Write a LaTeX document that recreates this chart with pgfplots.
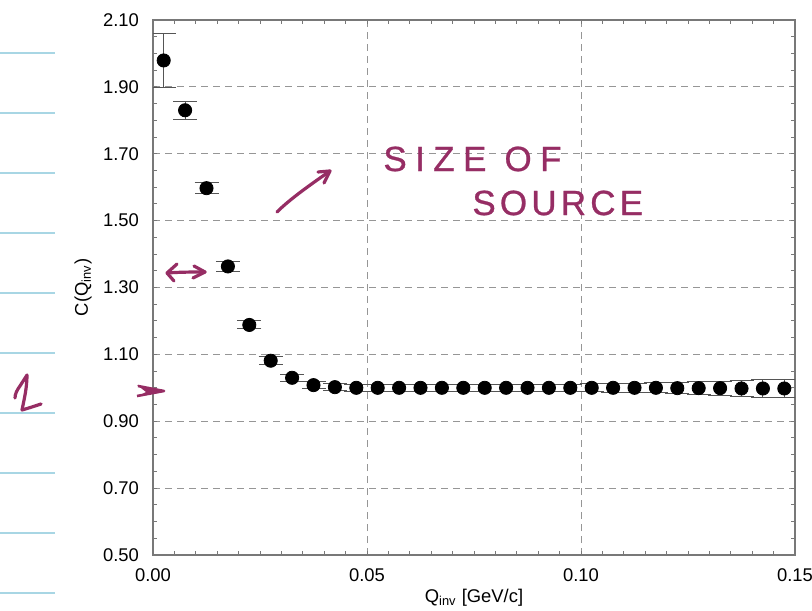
\documentclass[border=0pt]{standalone}
\usepackage{fontspec}
\setmainfont{Liberation Sans}
\newfontfamily\handA{Liberation Sans}[LetterSpace=24, FakeBold=0.8]
\newfontfamily\handB{Liberation Sans}[LetterSpace=12, FakeBold=0.8]
\usepackage{pgfplots}
\usepackage{pgfplotstable}
\pgfplotsset{compat=1.18}
\definecolor{ink}{RGB}{150,45,100}
\definecolor{nb}{RGB}{168,214,228}
\definecolor{fr}{RGB}{120,120,120}
\definecolor{gr}{RGB}{150,150,150}
\definecolor{eb}{RGB}{85,85,85}

\pgfplotstableread{
x y e
0.0025 1.979 0.082
0.0075 1.830 0.027
0.0125 1.597 0.016
0.0175 1.363 0.014
0.0225 1.188 0.012
0.0275 1.081 0.012
0.0325 1.030 0.010
0.0375 1.008 0.010
0.0425 1.002 0.010
0.0475 1.000 0.011
0.0525 1.000 0.011
0.0575 1.000 0.011
0.0625 1.000 0.011
0.0675 1.000 0.011
0.0725 1.000 0.011
0.0775 1.000 0.011
0.0825 1.000 0.011
0.0875 1.000 0.011
0.0925 1.000 0.011
0.0975 1.000 0.011
0.1025 1.000 0.012
0.1075 1.000 0.013
0.1125 1.000 0.014
0.1175 1.000 0.015
0.1225 0.999 0.017
0.1275 0.999 0.019
0.1325 0.999 0.021
0.1375 0.998 0.023
0.1425 0.998 0.026
0.1475 0.998 0.028
}\data

\begin{document}
\begin{tikzpicture}
\useasboundingbox[fill=white] (0,0) rectangle (406pt,305pt);
\begin{axis}[
  scale only axis, width=321pt, height=267.5pt,
  at={(76.5pt,27.5pt)}, anchor=south west,
  xmin=0, xmax=0.15, ymin=0.5, ymax=2.1,
  xtick={0,0.05,0.1,0.15},
  ytick={0.5,0.7,0.9,1.1,1.3,1.5,1.7,1.9,2.1},
  minor x tick num=9, minor y tick num=3,
  scaled x ticks=false, scaled y ticks=false,
  /pgf/number format/assume math mode=true,
  /pgf/number format/fixed,
  /pgf/number format/fixed zerofill,
  /pgf/number format/precision=2,
  xticklabel style={yshift=-3.5pt},
  yticklabel style={xshift=-3.5pt},
  grid=major,
  major grid style={gr, dash pattern=on 3.5pt off 2.5pt, line width=0.5pt},
  axis line style={fr, line width=0.6pt},
  tick style={fr, line width=0.5pt},
  major tick length=2pt, minor tick length=2pt,
  tick align=inside,
  font=\fontsize{9.2}{11}\selectfont,
  xlabel={Q\textsubscript{inv} [GeV/c]},
  ylabel={C(Q\textsubscript{inv})},
  every axis x label/.style={at={(axis description cs:0.5,-0.0804)}, anchor=center},
  every axis y label/.style={at={(axis description cs:-0.109,0.5)}, anchor=center, rotate=90},
]
\addplot[only marks, mark=*, mark size=3.3pt, black,
  error bars/.cd, y dir=both, y explicit,
  error bar style={eb, line width=0.5pt},
  error mark options={eb, line width=0.5pt, mark size=6pt, rotate=90}]
  table[x=x, y=y, y error=e]{\data};
\end{axis}

\begin{scope}[x=0.5pt, y=-0.5pt, yshift=305pt]
  % notebook lines
  \foreach \py in {53,113,173,233,293,353,413,473,533,593}
    \draw[nb, line width=0.9pt] (0,\py) -- (55,\py);
  % handwritten "1"
  \draw[ink, line width=1.6pt, line cap=round, line join=round]
    (15,398) .. controls (15,394) and (17,390) .. (20,386)
    .. controls (23,381) and (26,377) .. (27,375)
    .. controls (27,388) and (24,400) .. (22,410)
    .. controls (29,408) and (35,406) .. (41,404);
  % arrowhead pointing at C=1
  \fill[ink] (137,385) -- (165,391) -- (137,397) -- (146,392) -- cycle;
  \draw[ink, line width=1.3pt, line join=round] (138,386) -- (164,391) -- (137,396);
  % double arrow
  \draw[ink, line width=1.6pt, line cap=round, line join=round]
    (177,264) -- (167,273) -- (174,281);
  \draw[ink, line width=1.6pt, line cap=round] (167,273) .. controls (180,272) and (195,272) .. (205,272);
  \draw[ink, line width=1.6pt, line cap=round, line join=round]
    (194,266) -- (205,272) -- (193,278);
  % diagonal arrow
  \draw[ink, line width=1.6pt, line cap=round]
    (277,212) .. controls (290,199) and (310,185) .. (330,171);
  \draw[ink, line width=1.6pt, line cap=round, line join=round]
    (318,172) -- (330,171) -- (324,183);
  % text
  \node[ink, font=\handA\fontsize{17.5}{17.5}\selectfont, anchor=west, inner sep=0pt] at (383,159) {SIZE OF};
  \node[ink, font=\handB\fontsize{17.5}{17.5}\selectfont, anchor=west, inner sep=0pt] at (472,203) {SOURCE};
\end{scope}
\end{tikzpicture}
\end{document}
